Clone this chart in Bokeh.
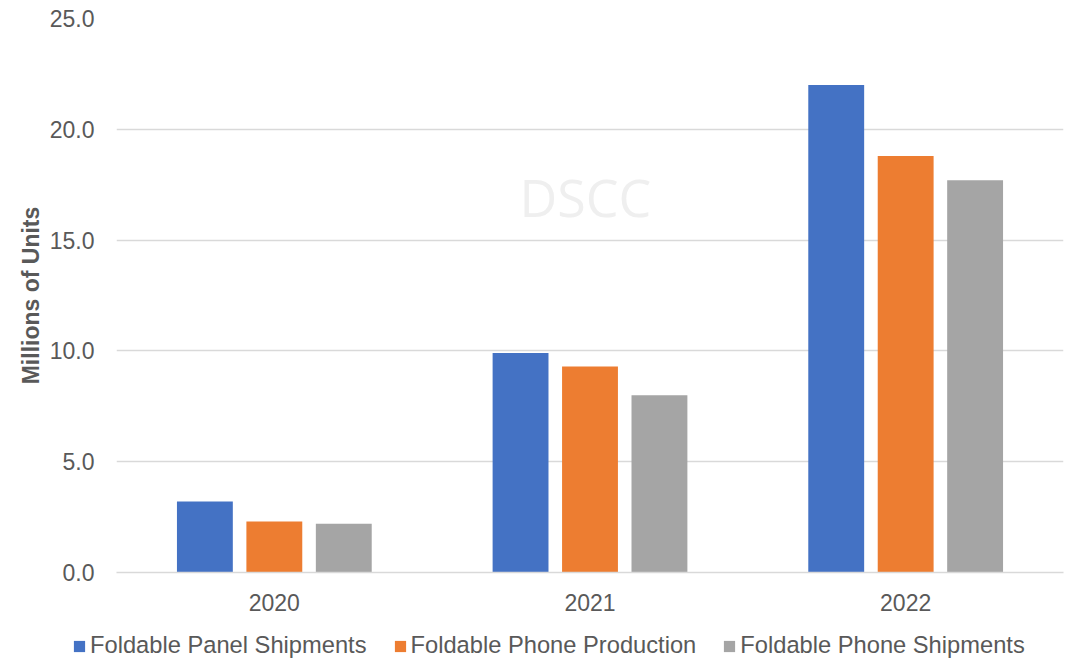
from bokeh.plotting import figure
from bokeh.models import ColumnDataSource, Legend, LegendItem, Label, FactorRange, Range1d, FixedTicker, PrintfTickFormatter
from bokeh.layouts import column
from bokeh.transform import dodge
from bokeh.embed import file_html
from bokeh.resources import INLINE

years = ["2020", "2021", "2022"]
panel_shipments = [3.2, 9.9, 22.0]
phone_production = [2.3, 9.3, 18.8]
phone_shipments = [2.2, 8.0, 17.7]
series_names = ["Foldable Panel Shipments", "Foldable Phone Production", "Foldable Phone Shipments"]
y_ticks = [0, 5, 10, 15, 20, 25]

colors = ["#4472C4", "#ED7D31", "#A5A5A5"]
text_color = "#595959"
FONT = "Liberation Sans"

src = ColumnDataSource(data=dict(years=years, panel=panel_shipments,
                                 production=phone_production, ship=phone_shipments))
fields = ["panel", "production", "ship"]
offsets = [-0.22, 0.0, 0.22]

p = figure(x_range=FactorRange(*years, range_padding=0), y_range=Range1d(0, 25),
           width=1064, height=620, output_backend="svg", toolbar_location=None,
           min_border_left=116, min_border_right=1, min_border_top=18, min_border_bottom=48)
p.outline_line_color = None
p.background_fill_color = "white"
p.border_fill_color = "white"

for f, off, c in zip(fields, offsets, colors):
    p.vbar(x=dodge("years", off, range=p.x_range), top=f, width=0.177, source=src,
           fill_color=c, line_color=None)

# axes
p.yaxis.ticker = FixedTicker(ticks=y_ticks)
p.yaxis.formatter = PrintfTickFormatter(format="%.1f")
p.yaxis.axis_line_color = None
p.yaxis.major_tick_line_color = None
p.yaxis.minor_tick_line_color = None
p.yaxis.major_label_text_font = FONT
p.yaxis.major_label_text_font_size = "23px"
p.yaxis.major_label_text_color = text_color
p.yaxis.major_label_standoff = 16
p.yaxis.axis_label = "Millions of Units"
p.yaxis.axis_label_text_font = FONT
p.yaxis.axis_label_text_font_style = "bold"
p.yaxis.axis_label_text_font_size = "23px"
p.yaxis.axis_label_text_color = text_color
p.yaxis.axis_label_standoff = 3

p.xaxis.axis_line_color = "#D9D9D9"
p.xaxis.axis_line_width = 1.3
p.xaxis.major_tick_line_color = None
p.xaxis.minor_tick_line_color = None
p.xaxis.major_label_text_font = FONT
p.xaxis.major_label_text_font_size = "23px"
p.xaxis.major_label_text_color = text_color
p.xaxis.major_label_standoff = 15

p.xgrid.grid_line_color = None
p.ygrid.grid_line_color = "#D9D9D9"
p.ygrid.grid_line_width = 1.3

# watermark
wm = Label(x=469, y=376, x_units="screen", y_units="screen", text="DSCC",
           text_font="Open Sans", text_font_size="52px", text_color="#EFEFEF",
           text_align="center", text_baseline="middle")
p.add_layout(wm)

# legend strip below the chart (full-width frame)
lg = figure(width=1064, height=40, output_backend="svg", toolbar_location=None,
            x_range=FactorRange(*years), y_range=Range1d(0, 25),
            x_axis_type=None, y_axis_type=None,
            min_border_left=0, min_border_right=0, min_border_top=0, min_border_bottom=0)
lg.grid.visible = False
lg.outline_line_color = None
lg.background_fill_color = "white"
lg.border_fill_color = "white"
if "frame_align" in lg.properties():
    lg.frame_align = False
    p.frame_align = False
swatches = [lg.vbar(x="years", top=f, width=0.1, source=src, fill_color=c, line_color=None,
                    visible=False) for f, c in zip(fields, colors)]
items = [LegendItem(label=n, renderers=[r]) for n, r in zip(series_names, swatches)]
legend = Legend(items=items, orientation="horizontal", location=(72, 1),
                label_text_font=FONT, label_text_font_size="23.7px", label_text_color=text_color,
                glyph_width=14, glyph_height=14, label_standoff=4, spacing=26,
                padding=0, margin=0, border_line_color=None, background_fill_alpha=0)
lg.add_layout(legend)

layout = column(p, lg, spacing=0)
open("out.html", "w").write(file_html(layout, INLINE))
